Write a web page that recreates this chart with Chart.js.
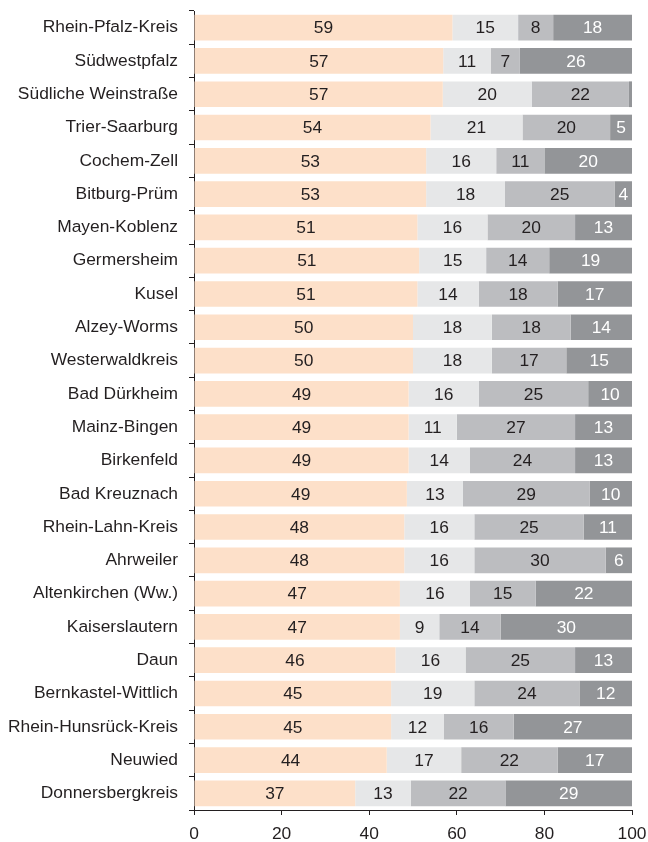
<!DOCTYPE html>
<html><head><meta charset="utf-8">
<script src="https://cdn.jsdelivr.net/npm/chart.js@4/dist/chart.umd.min.js"></script>
<style>html,body{margin:0;padding:0;background:#fff;}canvas{display:block;}</style>
</head><body>
<canvas id="c" width="648" height="842"></canvas>
<script>
const categories = ["Rhein-Pfalz-Kreis","Südwestpfalz","Südliche Weinstraße","Trier-Saarburg","Cochem-Zell","Bitburg-Prüm","Mayen-Koblenz","Germersheim","Kusel","Alzey-Worms","Westerwaldkreis","Bad Dürkheim","Mainz-Bingen","Birkenfeld","Bad Kreuznach","Rhein-Lahn-Kreis","Ahrweiler","Altenkirchen (Ww.)","Kaiserslautern","Daun","Bernkastel-Wittlich","Rhein-Hunsrück-Kreis","Neuwied","Donnersbergkreis"];
const series1 = [59,56.9,56.8,54,53,53,51,51.4,51,50,50,49,49,49,48.6,48,48,47,47,46,45,45,44,36.8];
const series2 = [15,10.9,20.3,21,16,18,16,15.3,14,18,18,16,11,14,12.8,16,16,16,9,16,19,12,17,12.7];
const series3 = [8,6.6,22.2,20,11,25,20,14.4,18,18,17,25,27,24,28.9,25,30,15,14,25,24,16,22,21.6];
const series4 = [18,25.6,0.7,5,20,4,13,18.9,17,14,15,10,13,13,9.7,11,6,22,30,13,12,27,17,28.9];
const xTicks = [0,20,40,60,80,100];

const colors = ["#fde0c9","#e6e7e8","#bcbdc0","#939598"];
const labelColors = ["#231f20","#231f20","#231f20","#ffffff"];
const FONT = "'Liberation Sans', Arial, Helvetica, sans-serif";

const labelPlugin = {
  id: 'segLabels',
  afterDatasetsDraw(chart) {
    const ctx = chart.ctx;
    ctx.save();
    ctx.font = "17.4px " + FONT;
    ctx.textAlign = "center";
    ctx.textBaseline = "middle";
    chart.data.datasets.forEach((ds, di) => {
      const meta = chart.getDatasetMeta(di);
      meta.data.forEach((el, i) => {
        const v = ds.data[i];
        if (v < 2) return;
        const cx = (el.x + el.base) / 2;
        ctx.fillStyle = labelColors[di];
        ctx.fillText(String(Math.round(v)), cx, el.y + 1);
      });
    });
    ctx.restore();
  }
};

new Chart(document.getElementById('c'), {
  type: 'bar',
  data: {
    labels: categories,
    datasets: [series1, series2, series3, series4].map((d, i) => ({
      data: d,
      backgroundColor: colors[i],
      borderWidth: 0,
      barPercentage: 0.772,
      categoryPercentage: 1.0
    }))
  },
  options: {
    indexAxis: 'y',
    responsive: false,
    animation: false,
    devicePixelRatio: 1,
    layout: { padding: { top: 11, right: 16, left: 0, bottom: 0 } },
    plugins: { legend: { display: false }, tooltip: { enabled: false } },
    scales: {
      x: {
        stacked: true,
        min: 0, max: 100,
        afterBuildTicks(s) { s.ticks = xTicks.map(v => ({ value: v })); },
        afterFit(s) { s.height = 32; s.paddingLeft = 0; s.paddingRight = 0; },
        grid: { drawOnChartArea: false, drawTicks: true, tickLength: 5, color: "#231f20" },
        border: { display: true, color: "#231f20", width: 1 },
        ticks: { color: "#231f20", font: { size: 17.4, family: FONT }, padding: 9, maxRotation: 0 }
      },
      y: {
        stacked: true,
        afterFit(s) { s.width = 194; s.paddingTop = 0; s.paddingBottom = 0; },
        grid: { drawOnChartArea: false, drawTicks: true, tickLength: 5, color: "#231f20", offset: true },
        border: { display: true, color: "#231f20", width: 1 },
        ticks: { color: "#231f20", font: { size: 17.4, family: FONT }, padding: 11, autoSkip: false }
      }
    }
  },
  plugins: [labelPlugin]
});
</script>
</body></html>
